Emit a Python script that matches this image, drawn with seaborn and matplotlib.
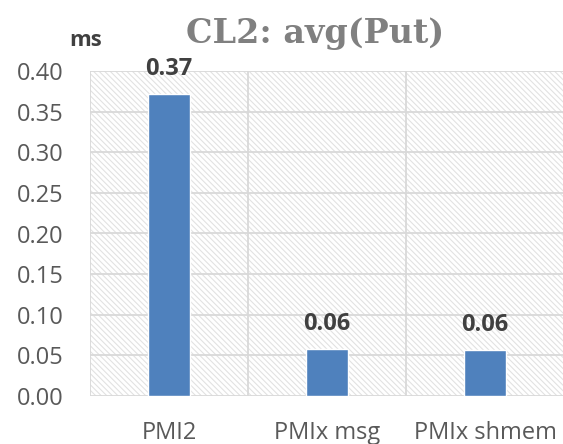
import matplotlib
matplotlib.use("Agg")
import matplotlib.pyplot as plt
import seaborn as sns
import pandas as pd
from matplotlib.patches import Rectangle

categories = ["PMI2", "PMIx msg", "PMIx shmem"]
values = [0.372, 0.058, 0.057]
labels = ["0.37", "0.06", "0.06"]
yticks = [0.00, 0.05, 0.10, 0.15, 0.20, 0.25, 0.30, 0.35, 0.40]

sns.set_theme(style="white")
plt.rcParams['font.family'] = ['Open Sans', 'DejaVu Sans']
plt.rcParams['hatch.linewidth'] = 0.8
plt.rcParams['hatch.color'] = '#E2E2E2'

df = pd.DataFrame({"cat": categories, "val": values})

fig = plt.figure(figsize=(5.63, 4.44), dpi=100)
ax = fig.add_axes([90/563, 1-396/444, 474/563, 325/444])

# hatched background
bg = Rectangle((0, 0), 1, 1, transform=ax.transAxes, facecolor='white',
               edgecolor='#E2E2E2', hatch='\\\\\\\\\\\\', linewidth=0, zorder=0)
ax.add_patch(bg)

sns.barplot(data=df, x="cat", y="val", color="#4F81BD", width=0.27,
            saturation=1, ax=ax, zorder=3)

ax.set_ylim(0, 0.40)
ax.set_xlim(-0.5, 2.5)
ax.set_yticks(yticks)
ax.set_yticklabels([f"{t:.2f}" for t in yticks])
for y in yticks:
    ax.axhline(y, color='#D9D9D9', lw=1.3, zorder=1)
for x in [-0.5, 0.5, 1.5, 2.5]:
    ax.axvline(x, color='#D9D9D9', lw=1.3, zorder=1)
for s in ax.spines.values():
    s.set_visible(False)

ax.tick_params(axis='y', labelsize=17, colors='#595959', length=0, pad=19)
ax.tick_params(axis='x', labelsize=17, colors='#595959', length=0, pad=18)
ax.set_xlabel("")
ax.set_ylabel("")

for i, (v, l) in enumerate(zip(values, labels)):
    ax.annotate(l, (i, v), xytext=(0, 9), textcoords='offset points',
                ha='center', va='bottom', fontsize=17, fontweight='bold',
                color='#404040')

fig.text(315/563, 1-33/444, "CL2: avg(Put)", ha='center', va='center',
         fontsize=24, fontweight='bold', color='#808080',
         family=['DejaVu Serif'])
fig.text(86/563, 1-40/444, "ms", ha='center', va='center', fontsize=16,
         fontweight='bold', color='#404040')

fig.savefig("out.png", dpi=100)
